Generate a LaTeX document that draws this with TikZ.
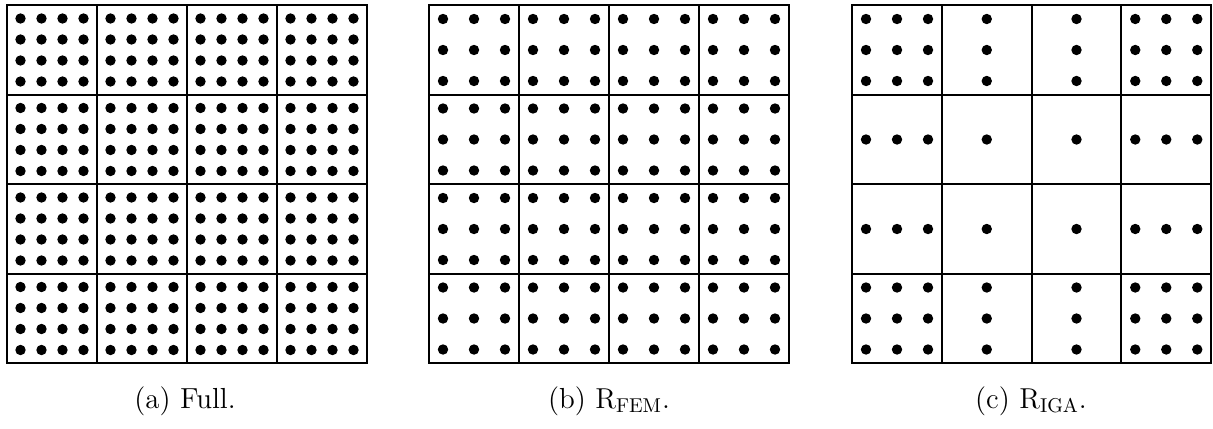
\documentclass[tikz,border=0pt]{standalone}
\begin{document}
\begin{tikzpicture}[x=0.5pt,y=-0.5pt,
    cellline/.style={line width=1pt},
    caption/.style={font=\fontsize{14.5}{17}\selectfont}]
  \useasboundingbox (0,0) rectangle (1213,428);
  \begin{scope}[shift={(7,5)}]
    \draw[cellline] (0,0) rectangle (360,358);
    \foreach \k in {1,2,3} {
      \draw[cellline] (90*\k,0) -- (90*\k,358);
      \draw[cellline] (0,89.5*\k) -- (360,89.5*\k);
    }
    \foreach \i in {0,...,3}
      \foreach \j in {0,...,3}
        \foreach \u in {13.5,34.5,55.5,76.5}
          \foreach \v in {13.5,34.5,55.5,76.5}
            \fill (90*\i+\u,89.5*\j+\v) circle (2.6pt);
  \end{scope}
  \begin{scope}[shift={(429,5)}]
    \draw[cellline] (0,0) rectangle (360,358);
    \foreach \k in {1,2,3} {
      \draw[cellline] (90*\k,0) -- (90*\k,358);
      \draw[cellline] (0,89.5*\k) -- (360,89.5*\k);
    }
    \foreach \i in {0,...,3}
      \foreach \j in {0,...,3}
        \foreach \u in {14,45,76}
          \foreach \v in {14,45,76}
            \fill (90*\i+\u,89.5*\j+\v) circle (2.6pt);
  \end{scope}
  \begin{scope}[shift={(852,5)}]
    \draw[cellline] (0,0) rectangle (359,358);
    \foreach \k in {1,2,3} {
      \draw[cellline] (89.75*\k,0) -- (89.75*\k,358);
      \draw[cellline] (0,89.5*\k) -- (359,89.5*\k);
    }
    \foreach \i/\ul in {0/{14,45,76},1/{45},2/{45},3/{14,45,76}}
      \foreach \j/\vl in {0/{14,45,76},1/{45},2/{45},3/{14,45,76}}
        \foreach \u in \ul
          \foreach \v in \vl
            \fill (89.75*\i+\u,89.5*\j+\v) circle (2.6pt);
  \end{scope}
  \node[caption] (capa) at (185,401) {(a) Full.};
  \node[caption] (capb) at (609,401) {(b) $\mathrm{R}_{\mathrm{FEM}}$.};
  \node[caption] (capc) at (1031,401) {(c) $\mathrm{R}_{\mathrm{IGA}}$.};
\end{tikzpicture}
\end{document}
